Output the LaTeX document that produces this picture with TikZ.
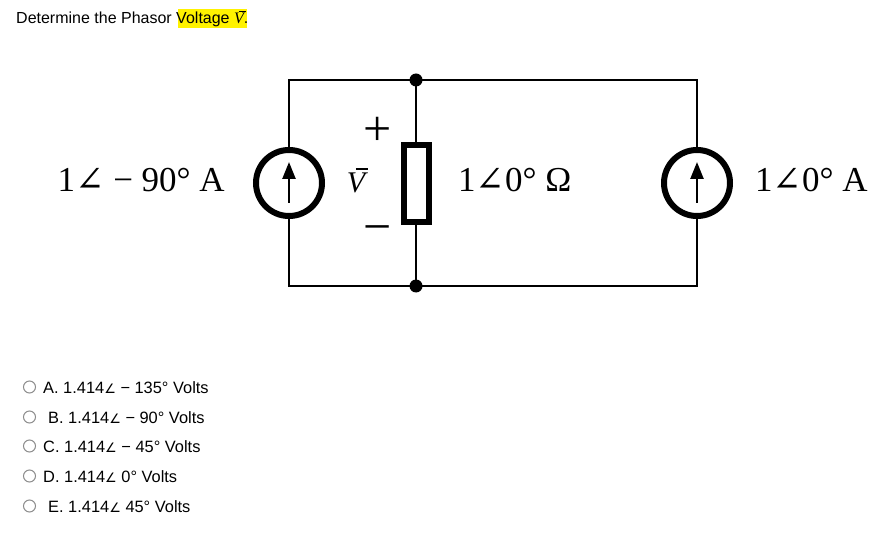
\documentclass[tikz,border=0pt]{standalone}
\usepackage{fontspec}
\setmainfont{Liberation Sans}
\newfontfamily\serifx{Liberation Serif}
\newfontfamily\dvserif{DejaVu Serif}
\newfontfamily\dvsans{DejaVu Sans}
\usetikzlibrary{arrows.meta}
\tikzset{
  wire/.style={line width=2pt},
  src/.style={circle,draw,line width=6pt,minimum size=66pt,inner sep=0pt},
  res/.style={rectangle,draw,line width=6pt,minimum width=25pt,minimum height=77pt,inner sep=0pt,fill=white},
  dot/.style={circle,fill,minimum size=13pt,inner sep=0pt},
  clabel/.style={inner sep=0pt,font=\serifx\fontsize{35}{40}\selectfont},
  pm/.style={inner sep=0pt,font=\serifx\fontsize{50}{50}\selectfont},
  radio/.style={circle,draw=gray!90,line width=1pt,minimum size=12pt,inner sep=0pt},
  opt/.style={inner sep=0pt,anchor=base west,font=\fontsize{16.4}{18}\selectfont},
  srcarrow/.style={line width=2.5pt,-{Triangle[length=17pt,width=13pt]}}
}
\newcommand{\angsans}{{\dvsans\fontsize{13}{16}\selectfont ∠}}
\newcommand{\angserif}{{\dvserif ∠}}
\newcommand{\barV}{\rlap{\kern0.3em\rule[0.78em]{0.42em}{0.05em}}{\serifx\itshape V}}
\begin{document}
\begin{tikzpicture}[x=1pt,y=-1pt]
\useasboundingbox (0,0) rectangle (873,540);
% title
\fill[yellow] (178,9) rectangle (247,28);
\node[opt,font=\fontsize{16}{18}\selectfont] (title) at (16,24) {Determine the Phasor Voltage \barV.};
% circuit nodes
\node[src] (s1) at (289,183) {};
\node[src] (s2) at (697,183) {};
\node[res] (r) at (416,183.5) {};
\node[dot] (jt) at (416,80) {};
\node[dot] (jb) at (416,286) {};
\coordinate (tl) at (289,80);
\coordinate (tr) at (697,80);
\coordinate (bl) at (289,286);
\coordinate (br) at (697,286);
% wires
\draw[wire] (s1.north) -- (tl) -- (jt.center) -- (tr) -- (s2.north);
\draw[wire] (s1.south) -- (bl) -- (jb.center) -- (br) -- (s2.south);
\draw[wire] (jt.center) -- (r.north);
\draw[wire] (jb.center) -- (r.south);
% source arrows
\coordinate (a1b) at (289,203);
\coordinate (a1t) at (289,162);
\coordinate (a2b) at (697,203);
\coordinate (a2t) at (697,162);
\draw[srcarrow] (a1b) -- (a1t);
\draw[srcarrow] (a2b) -- (a2t);
% labels
\node[clabel,anchor=base east] (l1) at (225,192) {1\angserif\ − 90° A};
\node[clabel,anchor=base west] (l2) at (458,192) {1\angserif 0° Ω};
\node[clabel,anchor=base west] (l3) at (755,192) {1\angserif 0° A};
\node[pm] (plus) at (378,131.5) {+};
\node[pm] (minus) at (378,234.5) {−};
\node[inner sep=0pt,anchor=base,font=\fontsize{30}{32}\selectfont] (vbar) at (356,193) {\barV};
% options
\foreach \y/\xo/\t [count=\i] in {387/43/{A. 1.414\angsans\ − 135° Volts},417/48/{B. 1.414\angsans\ − 90° Volts},446/43/{C. 1.414\angsans\ − 45° Volts},476/43/{D. 1.414\angsans\ 0° Volts},506/48/{E. 1.414\angsans\ 45° Volts}}{
  \node[radio] (rb\i) at (29.5,\y) {};
  \node[opt] (o\i) at (\xo,\y+6) {\t};
}
\end{tikzpicture}
\end{document}
